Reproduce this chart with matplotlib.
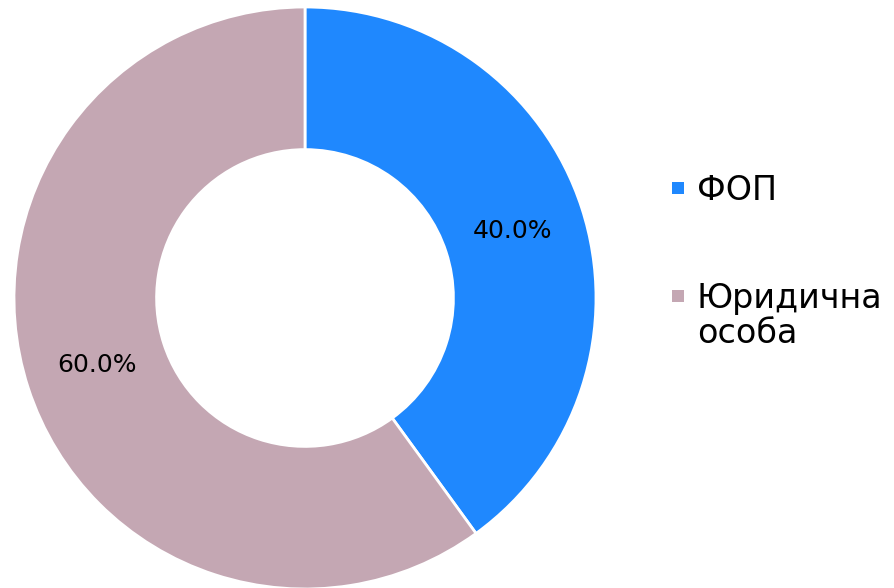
import matplotlib
matplotlib.use("Agg")
import matplotlib.pyplot as plt
from matplotlib.patches import Rectangle

categories = ["ФОП", "Юридична\nособа"]
values = [40.0, 60.0]
colors = ["#1F88FE", "#C4A7B3"]

plt.rcParams['font.family'] = ['DejaVu Sans']

fig = plt.figure(figsize=(8.94, 5.88), dpi=100)
W, H = 894, 588
cx, cy, R = 305, 298, 291
ax = fig.add_axes([(cx - R) / W, (H - cy - R) / H, 2 * R / W, 2 * R / H])
wedges, texts, autotexts = ax.pie(
    values, colors=colors, startangle=90, counterclock=False,
    autopct='%1.1f%%', pctdistance=0.75, radius=1,
    wedgeprops=dict(width=0.49, edgecolor='white', linewidth=2),
    textprops=dict(fontsize=18, color='black'))
ax.set_xlim(-1, 1)
ax.set_ylim(-1, 1)
ax.set_aspect('equal')
ax.axis('off')

# legend (manual, handle aligned with first line of label)
entry_baselines = [200, 308]   # px from top
square_centers = [188, 296]
line_step = 35
for lab, c, yb, ys in zip(categories, colors, entry_baselines, square_centers):
    fig.patches.append(Rectangle(((672) / W, 1 - (ys + 6) / H), 12 / W, 12 / H,
                                 transform=fig.transFigure, facecolor=c,
                                 edgecolor='none'))
    for j, line in enumerate(lab.split("\n")):
        fig.text(697 / W, 1 - (yb + j * line_step) / H, line, fontsize=24,
                 va='baseline', ha='left', color='black')

fig.savefig("out.png", dpi=100)
